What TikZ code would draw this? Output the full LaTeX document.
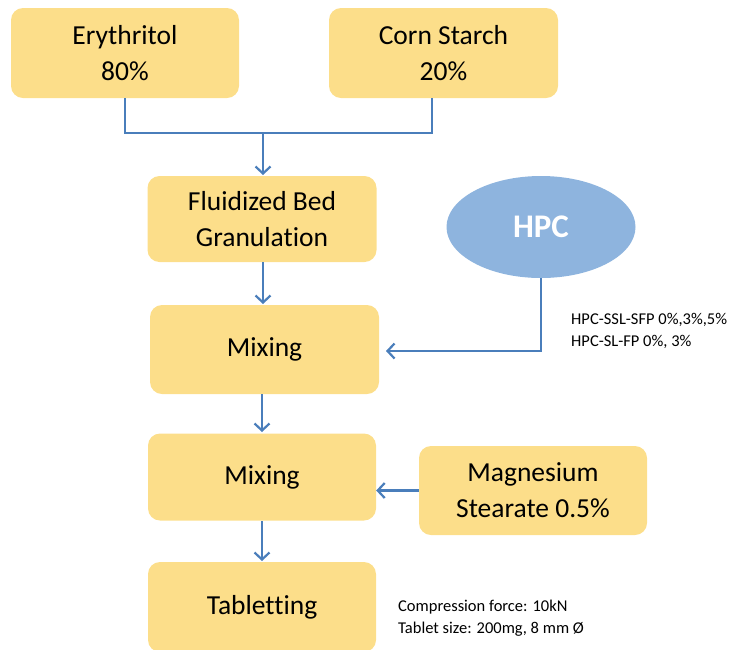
\documentclass[tikz,border=0pt]{standalone}
\usepackage{fontspec}
\setmainfont{Carlito}[Ligatures=NoCommon]
\usetikzlibrary{arrows.meta,shapes.geometric}
\definecolor{boxfill}{RGB}{252,222,138}
\definecolor{ellfill}{RGB}{142,180,222}
\definecolor{linecol}{RGB}{74,126,187}
\tikzset{
  procbox/.style={fill=boxfill, draw=none, rounded corners=12pt, align=center,
    font=\fontsize{27.5}{36}\selectfont, inner sep=0pt},
  conn/.style={draw=linecol, line width=2.2pt},
  arr/.style={conn, -{Straight Barb[length=7pt,width=15pt,line width=2.2pt]}},
  note/.style={align=left, anchor=west, font=\fontsize{16.5}{21.5}\selectfont, inner sep=0pt}
}
\begin{document}
\begin{tikzpicture}[x=1pt,y=-1pt]
\useasboundingbox (0,0) rectangle (731,649);
\node[procbox, minimum width=228pt, minimum height=90pt] (ery) at (125,53) {Erythritol\\80\%};
\node[procbox, minimum width=229pt, minimum height=90pt] (corn) at (443.5,53) {Corn Starch\\20\%};
\node[procbox, minimum width=229pt, minimum height=86pt] (fbg) at (262,219) {Fluidized Bed\\Granulation};
\node[ellipse, fill=ellfill, minimum width=189pt, minimum height=102pt, inner sep=0pt,
  text=white, font=\fontsize{33}{36}\selectfont\bfseries] (hpc) at (541,227) {HPC};
\node[procbox, minimum width=229pt, minimum height=89pt] (mix1) at (264.5,349.5) {Mixing};
\node[procbox, minimum width=228pt, minimum height=87pt] (mix2) at (262,477) {Mixing};
\node[procbox, minimum width=228pt, minimum height=89pt] (mg) at (533,490.5) {Magnesium\\Stearate 0.5\%};
\node[procbox, minimum width=228pt, minimum height=90pt] (tab) at (262,607) {Tabletting};
\node[note] (hpcnote) at (571,331) {HPC-SSL-SFP 0\%,3\%,5\%\\HPC-SL-FP 0\%, 3\%};
\node[note] (tabnote) at (398,618) {Compression force: 10kN\\Tablet size: 200mg, 8 mm Ø};
\coordinate (cornfoot) at (432,98);
\coordinate (join) at (263,133);
\draw[conn] (ery.south) |- (join) -| (cornfoot);
\draw[arr] (join) -- (263,175);
\draw[arr] (263,262) -- (263,304);
\draw[arr] (262,394) -- (262,432);
\draw[arr] (262,521) -- (262,561);
\draw[arr] (hpc.south) |- (386,351);
\draw[arr] (mg.west) -- (mix2.east |- mg.west);
\end{tikzpicture}
\end{document}
